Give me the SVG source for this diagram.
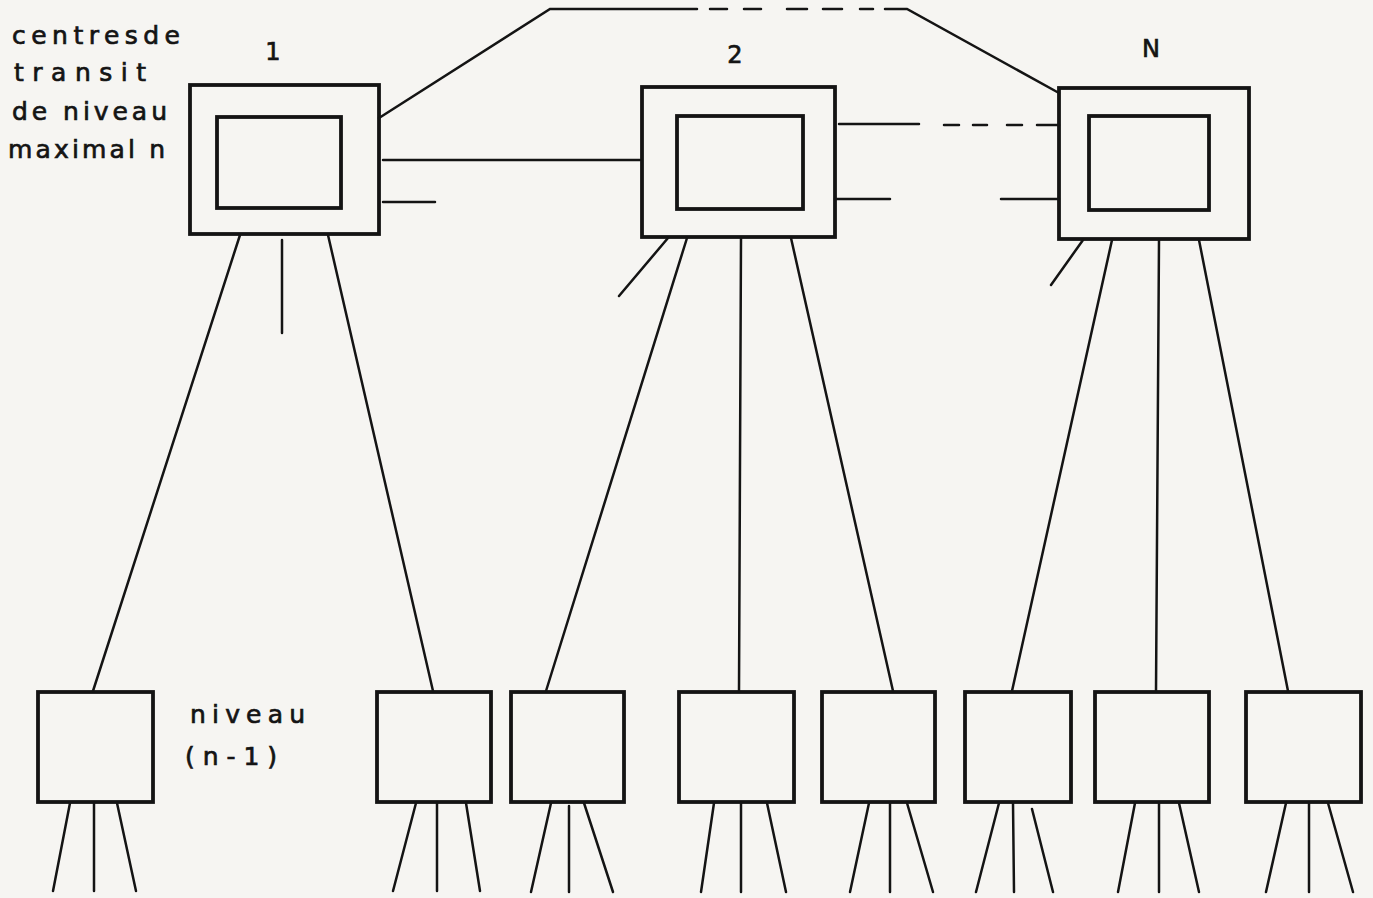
<svg xmlns="http://www.w3.org/2000/svg" width="1373" height="898" viewBox="0 0 1373 898">
  <defs>
    <style>
      .bg { fill: #f6f5f2; }
      .box { fill: none; stroke: #141414; stroke-width: 3.8; stroke-linejoin: miter; }
      .inner { fill: none; stroke: #141414; stroke-width: 3.8; }
      .ln { fill: none; stroke: #141414; stroke-width: 2.5; stroke-linecap: round; }
      .lbl { font-family: "DejaVu Sans", "Liberation Sans", sans-serif; font-size: 25px; fill: #141414; stroke: #141414; stroke-width: 0.7; }
      .num { font-family: "DejaVu Sans", "Liberation Sans", sans-serif; font-size: 24px; fill: #141414; stroke: #141414; stroke-width: 0.7; text-anchor: middle; }
    </style>
  </defs>

  <rect class="bg" x="0" y="0" width="1373" height="898"/>

  <!-- caption for the top level -->
  <g id="caption-top">
    <text class="lbl" x="12" y="44" textLength="168" lengthAdjust="spacing">centresde</text>
    <text class="lbl" x="14" y="81" textLength="132" lengthAdjust="spacing">transit</text>
    <text class="lbl" x="12" y="120" textLength="155" lengthAdjust="spacing">de niveau</text>
    <text class="lbl" x="8" y="158" textLength="157" lengthAdjust="spacing">maximal n</text>
  </g>

  <!-- transit centres, level n -->
  <g id="centre-1">
    <rect class="box" x="190" y="85" width="189" height="149"/>
    <rect class="inner" x="217" y="117" width="124" height="91"/>
    <text class="num" x="273" y="60">1</text>
  </g>
  <g id="centre-2">
    <rect class="box" x="642" y="87" width="193" height="150"/>
    <rect class="inner" x="677" y="116" width="126" height="93"/>
    <text class="num" x="735" y="63">2</text>
  </g>
  <g id="centre-N">
    <rect class="box" x="1059" y="88" width="190" height="151"/>
    <rect class="inner" x="1089" y="116" width="120" height="94"/>
    <text class="num" x="1151" y="57">N</text>
  </g>

  <!-- level n-1 centres -->
  <g id="sub-a"><rect class="box" x="38" y="692" width="115" height="110"/></g>
  <g id="sub-b"><rect class="box" x="377" y="692" width="114" height="110"/></g>
  <g id="sub-c"><rect class="box" x="511" y="692" width="113" height="110"/></g>
  <g id="sub-d"><rect class="box" x="679" y="692" width="115" height="110"/></g>
  <g id="sub-e"><rect class="box" x="822" y="692" width="113" height="110"/></g>
  <g id="sub-f"><rect class="box" x="965" y="692" width="106" height="110"/></g>
  <g id="sub-g"><rect class="box" x="1095" y="692" width="114" height="110"/></g>
  <g id="sub-h"><rect class="box" x="1246" y="692" width="115" height="110"/></g>

  <g id="caption-sub">
    <text class="lbl" x="190" y="723" textLength="115" lengthAdjust="spacing">niveau</text>
    <text class="lbl" x="185" y="765" textLength="92" lengthAdjust="spacing">(n-1)</text>
  </g>

  <g id="connectors">
    <!-- mesh between the top-level centres -->
    <path class="ln" d="M379 118 L550 9 L697 9"/>
    <path class="ln" d="M710 9 L727 9 M744 9 L761 9 M787 9 L807 9 M823 9 L842 9 M860 9 L873 9"/>
    <path class="ln" d="M885 9 L907 9 L1059 93"/>
    <path class="ln" d="M383 160 L640 160"/>
    <path class="ln" d="M383 202 L435 202"/>
    <path class="ln" d="M839 124 L919 124"/>
    <path class="ln" d="M944 125 L959 125 M973 125 L987 125 M1007 125 L1022 125 M1037 125 L1059 125"/>
    <path class="ln" d="M835 199 L890 199"/>
    <path class="ln" d="M1001 199 L1059 199"/>

    <!-- links down to level n-1 -->
    <path class="ln" d="M240 235 L93 691"/>
    <path class="ln" d="M282 240 L282 333"/>
    <path class="ln" d="M328 235 L433 691"/>

    <path class="ln" d="M668 238 L619 296"/>
    <path class="ln" d="M687 238 L546 691"/>
    <path class="ln" d="M741 238 L739 691"/>
    <path class="ln" d="M791 238 L893 691"/>

    <path class="ln" d="M1083 240 L1051 285"/>
    <path class="ln" d="M1112 240 L1012 691"/>
    <path class="ln" d="M1159 240 L1156 691"/>
    <path class="ln" d="M1199 240 L1288 691"/>

    <!-- links below level n-1 -->
    <path class="ln" d="M70 803 L53 891 M94 803 L94 891 M117 803 L136 891"/>
    <path class="ln" d="M416 803 L393 891 M437 803 L437 891 M466 803 L480 891"/>
    <path class="ln" d="M551 803 L531 892 M569 806 L569 892 M584 803 L613 892"/>
    <path class="ln" d="M714 803 L701 892 M741 803 L741 892 M767 803 L786 892"/>
    <path class="ln" d="M869 803 L850 892 M890 803 L890 892 M907 803 L933 892"/>
    <path class="ln" d="M999 803 L976 892 M1013 803 L1014 892 M1032 809 L1053 892"/>
    <path class="ln" d="M1135 803 L1118 892 M1159 803 L1159 892 M1179 803 L1199 892"/>
    <path class="ln" d="M1286 803 L1266 892 M1309 803 L1309 892 M1328 803 L1353 892"/>
  </g>
</svg>
